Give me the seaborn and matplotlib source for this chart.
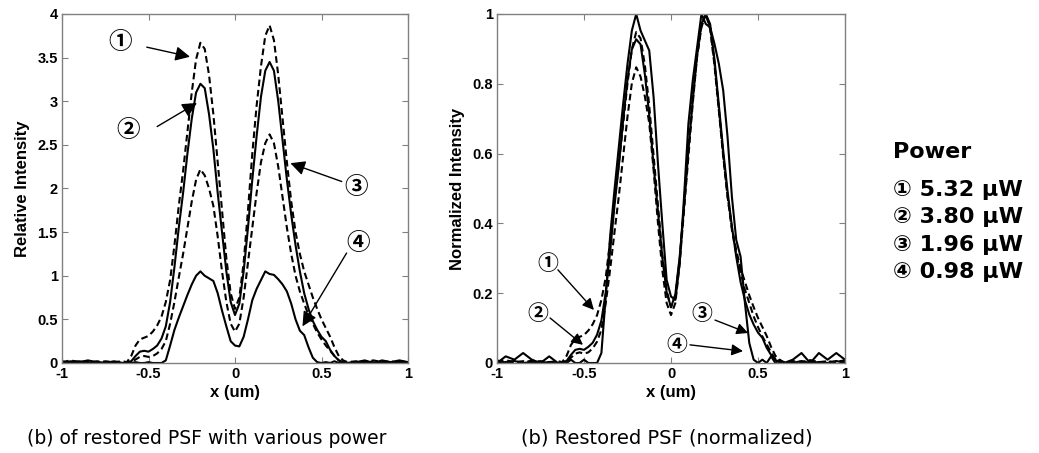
import numpy as np
import pandas as pd
import seaborn as sns
import matplotlib.pyplot as plt

# x positions (um): coarse in the tails, finer where the two lobes are
x_left_tail = [-1.0, -0.95, -0.9, -0.85, -0.8, -0.75, -0.7]
x_core = [round(v, 3) for v in np.arange(-0.65, 0.651, 0.025)]
x_right_tail = [0.7, 0.75, 0.8, 0.85, 0.9, 0.95, 1.0]
x_um = x_left_tail + x_core + x_right_tail

# relative intensity, one list per power
p532 = ([0.01, 0.03, 0.01, 0.02, 0.0, 0.02, 0.01] +
        [0.02, 0.01, 0.08, 0.2, 0.27, 0.29, 0.31, 0.36, 0.43, 0.53,
         0.7, 0.95, 1.35, 1.8, 2.2, 2.65, 3.1, 3.48, 3.67, 3.6,
         3.3, 2.85, 2.3, 1.75, 1.2, 0.8, 0.62, 0.75, 1.15, 1.75,
         2.4, 2.95, 3.4, 3.75, 3.87, 3.7, 3.3, 2.8, 2.3, 1.85,
         1.5, 1.25, 1.05, 0.9, 0.75, 0.62, 0.5, 0.4, 0.3, 0.18,
         0.08, 0.03, 0.01] +
        [0.02, 0.01, 0.03, 0.01, 0.02, 0.0, 0.01])
p380 = ([0.0, 0.01, 0.02, 0.0, 0.01, 0.0, 0.01] +
        [0.0, 0.01, 0.02, 0.08, 0.13, 0.14, 0.13, 0.16, 0.2, 0.28,
         0.42, 0.7, 1.1, 1.55, 1.95, 2.4, 2.8, 3.1, 3.2, 3.15,
         2.85, 2.45, 1.95, 1.5, 1.05, 0.7, 0.55, 0.68, 1.05, 1.55,
         2.1, 2.6, 3.05, 3.35, 3.45, 3.35, 3.0, 2.55, 2.1, 1.7,
         1.35, 1.05, 0.8, 0.62, 0.48, 0.38, 0.3, 0.25, 0.15, 0.08,
         0.03, 0.01, 0.0] +
        [0.0, 0.02, 0.0, 0.01, 0.0, 0.02, 0.0])
p196 = ([0.02, 0.0, 0.01, 0.0, 0.02, 0.01, 0.0] +
        [0.0, 0.0, 0.01, 0.04, 0.07, 0.08, 0.07, 0.08, 0.11, 0.16,
         0.25, 0.45, 0.7, 0.98, 1.25, 1.55, 1.85, 2.1, 2.22, 2.15,
         2.0, 1.8, 1.45, 1.05, 0.7, 0.45, 0.36, 0.45, 0.75, 1.15,
         1.55, 1.95, 2.3, 2.52, 2.62, 2.52, 2.25, 1.9, 1.55, 1.25,
         1.0, 0.82, 0.68, 0.55, 0.45, 0.35, 0.27, 0.2, 0.14, 0.08,
         0.03, 0.0, 0.0] +
        [0.01, 0.0, 0.02, 0.0, 0.01, 0.01, 0.02])
p098 = ([0.0, 0.02, 0.01, 0.03, 0.01, 0.0, 0.02] +
        [0.0, 0.0, 0.0, 0.01, 0.0, 0.0, 0.01, 0.0, 0.0, 0.0,
         0.03, 0.2, 0.38, 0.52, 0.65, 0.78, 0.9, 1.0, 1.05, 1.0,
         0.97, 0.94, 0.8, 0.6, 0.42, 0.25, 0.2, 0.19, 0.3, 0.5,
         0.72, 0.85, 0.95, 1.05, 1.02, 1.01, 0.96, 0.9, 0.82, 0.68,
         0.5, 0.37, 0.32, 0.18, 0.06, 0.01, 0.0, 0.01, 0.0, 0.02,
         0.0, 0.01, 0.0] +
        [0.01, 0.03, 0.0, 0.03, 0.01, 0.03, 0.01])

powers = ['5.32', '3.80', '1.96', '0.98']
marks = ['\u2460', '\u2461', '\u2462', '\u2463']
curves = [p532, p380, p196, p098]
dashed = [True, False, True, False]

rows = []
for pw, vals in zip(powers, curves):
    vmax = max(vals)
    for xv, yv in zip(x_um, vals):
        rows.append({'x': xv, 'rel': yv, 'norm': yv / vmax, 'power': pw})
df = pd.DataFrame(rows)

sns.set_style('ticks')
plt.rcParams['font.family'] = ['Liberation Sans', 'Noto Sans CJK JP', 'DejaVu Sans']
plt.rcParams['text.color'] = 'black'
plt.rcParams['xtick.labelcolor'] = 'black'
plt.rcParams['ytick.labelcolor'] = 'black'
plt.rcParams['axes.labelcolor'] = 'black'

fig = plt.figure(figsize=(10.39, 4.53), dpi=100)
ax1 = fig.add_axes([62 / 1039, 90 / 453, 346 / 1039, 349 / 453])
ax2 = fig.add_axes([497 / 1039, 90 / 453, 348 / 1039, 349 / 453])

for ax, col in [(ax1, 'rel'), (ax2, 'norm')]:
    for pw, dsh in zip(powers, dashed):
        sub = df[df.power == pw]
        sns.lineplot(data=sub, x='x', y=col, ax=ax, color='k', lw=1.5,
                     linestyle=(0, (3.2, 1.8)) if dsh else '-',
                     estimator=None, sort=False)
    ax.set_xlim(-1, 1)
    ax.set_xticks([-1, -0.5, 0, 0.5, 1])
    ax.set_xticklabels(['-1', '-0.5', '0', '0.5', '1'])
    ax.set_xlabel('x (um)', fontsize=12, fontweight='bold', labelpad=3)
    for sp in ax.spines.values():
        sp.set_color('#808080')
        sp.set_linewidth(1.0)
    ax.tick_params(direction='in', length=4, top=True, right=True,
                   color='#808080', labelsize=10.5, pad=3)
    for lab in ax.get_xticklabels() + ax.get_yticklabels():
        lab.set_fontweight('bold')

ax1.set_ylim(0, 4)
ax1.set_yticks([0, 0.5, 1, 1.5, 2, 2.5, 3, 3.5, 4])
ax1.set_yticklabels(['0', '0.5', '1', '1.5', '2', '2.5', '3', '3.5', '4'],
                    fontweight='bold')
ax1.set_ylabel('Relative Intensity', fontsize=12, fontweight='bold', labelpad=5)

ax2.set_ylim(0, 1)
ax2.set_yticks([0, 0.2, 0.4, 0.6, 0.8, 1])
ax2.set_yticklabels(['0', '0.2', '0.4', '0.6', '0.8', '1'], fontweight='bold')
ax2.set_ylabel('Normalized Intensity', fontsize=12, fontweight='bold', labelpad=5)

arrow = dict(arrowstyle='-|>', mutation_scale=22, lw=1.0, color='k',
             shrinkA=0, shrinkB=0)

# left panel callouts: (label, text pos, arrow tail, arrow tip)
left_notes = [
    (marks[0], (-0.665, 3.68), (-0.51, 3.62), (-0.26, 3.51)),
    (marks[1], (-0.62, 2.67), (-0.45, 2.71), (-0.22, 2.98)),
    (marks[2], (0.70, 2.02), (0.617, 2.08), (0.32, 2.29)),
    (marks[3], (0.71, 1.38), (0.645, 1.26), (0.39, 0.42)),
]
for lab, tpos, tail, tip in left_notes:
    ax1.annotate('', xy=tip, xytext=tail, arrowprops=arrow)
    ax1.text(*tpos, lab, fontsize=17, fontweight='bold', ha='center',
             va='center', family=['Noto Sans CJK JP'])

right_notes = [
    (marks[0], (-0.707, 0.286), (-0.65, 0.267), (-0.443, 0.152)),
    (marks[1], (-0.764, 0.143), (-0.695, 0.129), (-0.506, 0.052)),
    (marks[2], (0.178, 0.143), (0.253, 0.123), (0.443, 0.086)),
    (marks[3], (0.034, 0.052), (0.109, 0.052), (0.414, 0.034)),
]
arrow2 = dict(arrow, mutation_scale=17)
for lab, tpos, tail, tip in right_notes:
    ax2.annotate('', xy=tip, xytext=tail, arrowprops=arrow2)
    ax2.text(*tpos, lab, fontsize=15, fontweight='bold', ha='center',
             va='center', family=['Noto Sans CJK JP'])

# captions
fig.text(207 / 1039, 1 - 438 / 453, '(b) of restored PSF with various power',
         fontsize=13.5, ha='center', va='center', family='DejaVu Sans')
fig.text(667 / 1039, 1 - 438 / 453, '(b) Restored PSF (normalized)',
         fontsize=14, ha='center', va='center', family='DejaVu Sans')

# power key on the right
fig.text(893 / 1039, 1 - 152 / 453, 'Power', fontsize=16, fontweight='bold',
         ha='left', va='center', family=['DejaVu Sans'])
for i, (m, pw) in enumerate(zip(marks, powers)):
    fig.text(893 / 1039, 1 - (190 + 27.3 * i) / 453, f'{m} {pw} \u03bcW',
             fontsize=16, fontweight='bold', ha='left', va='center',
             family=['DejaVu Sans', 'Noto Sans CJK JP'])

plt.savefig('out.png', dpi=100)
